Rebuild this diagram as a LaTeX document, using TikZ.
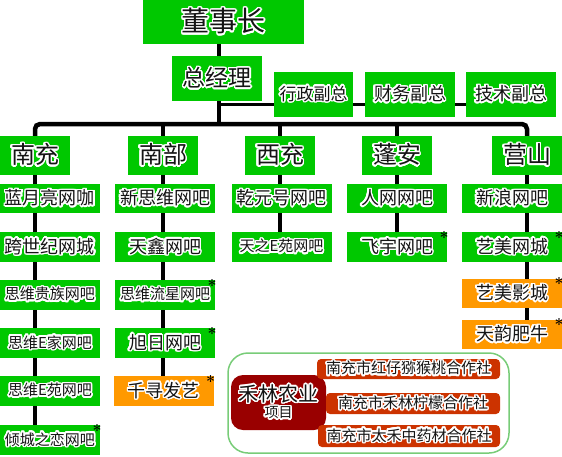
\documentclass[tikz,border=0pt]{standalone}
\usepackage{fontspec}
\usepackage{xcolor}
\usepackage[copies]{contour}
\usepackage{tikz}
\usetikzlibrary{backgrounds}
\newfontfamily\cjk{Noto Sans CJK SC}
\contourlength{1.5pt}
\contournumber{24}
\definecolor{boxgreen}{RGB}{0,200,0}
\definecolor{boxorange}{RGB}{255,153,0}
\definecolor{projred}{RGB}{153,0,0}
\definecolor{coopred}{RGB}{204,51,0}
\definecolor{ringgreen}{RGB}{120,204,120}
\definecolor{ink}{RGB}{20,20,20}
\newcommand{\gl}[1]{\contour{white}{#1}}
\newcommand{\fs}[1]{\fontsize{#1}{#1}\selectfont}

\begin{document}
\begin{tikzpicture}[
  x=1pt, y=-1pt,
  top/.style={fill=boxgreen, text=ink, inner sep=0pt, font=\cjk},
  head/.style={top, minimum width=70pt, minimum height=39pt, font=\cjk\fs{24}},
  shop/.style={top, minimum width=100pt, minimum height=29.5pt, font=\cjk\fs{18}},
  small/.style={font=\cjk\fs{15}},
  side/.style={shop, fill=boxorange},
  coop/.style={fill=coopred, text=ink, rounded corners=4pt, inner sep=0pt,
               minimum height=21pt, font=\cjk\fs{15}},
  link/.style={line width=4.5pt},
  asterisk/.style={font=\bfseries\fs{16}, inner sep=0pt},
]
  \useasboundingbox (0,0) rectangle (562,456);

  % --- board and management ---------------------------------------
  \node[top, minimum width=161pt, minimum height=44pt, font=\cjk\fs{28}] (chair) at (223.5,22) {\gl{董事长}};
  \node[top, minimum width=90pt, minimum height=45pt, font=\cjk\fs{23}] (gm) at (217,78.5) {\gl{总经理}};
  \node[top, minimum width=79pt, minimum height=45pt, font=\cjk\fs{17}] (vp1) at (313.5,94.5) {\gl{行政副总}};
  \node[top, minimum width=90pt, minimum height=45pt, font=\cjk\fs{18}] (vp2) at (410,94.5) {\gl{财务副总}};
  \node[top, minimum width=90pt, minimum height=45pt, font=\cjk\fs{18}] (vp3) at (511,94.5) {\gl{技术副总}};
  \coordinate (bus) at (219,124);
  \coordinate (vpline) at (219,104);

  % --- regions ----------------------------------------------------
  \node[head] (nc) at (35,155.5) {\gl{南充}};
  \node[head] (nb) at (163,155.5) {\gl{南部}};
  \node[head] (xc) at (280,155.5) {\gl{西充}};
  \node[head] (pa) at (397,155.5) {\gl{蓬安}};
  \node[head] (ys) at (527,155.5) {\gl{营山}};

  % --- shops ------------------------------------------------------
  \node[shop] (nc1) at (50,198.5) {\gl{蓝月亮网咖}};
  \node[shop] (nc2) at (50,247) {\gl{跨世纪网城}};
  \node[shop, small] (nc3) at (50,295) {\gl{思维贵族网吧}};
  \node[shop, small] (nc4) at (50,343) {\gl{思维E家网吧}};
  \node[shop, small] (nc5) at (50,391) {\gl{思维E苑网吧}};
  \node[shop, small] (nc6) at (50,440) {\gl{倾城之恋网吧}};

  \node[shop] (nb1) at (165,198.5) {\gl{新思维网吧}};
  \node[shop] (nb2) at (165,247) {\gl{天鑫网吧}};
  \node[shop, small] (nb3) at (165,295) {\gl{思维流星网吧}};
  \node[shop] (nb4) at (165,343) {\gl{旭日网吧}};
  \node[side] (nb5) at (163.5,391) {\gl{千寻发艺}};

  \node[shop] (xc1) at (281.5,198.5) {\gl{乾元号网吧}};
  \node[shop, small] (xc2) at (281.5,247) {\gl{天之E苑网吧}};

  \node[shop] (pa1) at (397,198.5) {\gl{人网网吧}};
  \node[shop] (pa2) at (397,247) {\gl{飞宇网吧}};

  \node[shop] (ys1) at (512,198.5) {\gl{新浪网吧}};
  \node[shop] (ys2) at (512,247) {\gl{艺美网城}};
  \node[side, minimum height=29pt] (ys3) at (512,293.5) {\gl{艺美影城}};
  \node[side, minimum height=29pt] (ys4) at (512,334.5) {\gl{天韵肥牛}};

  \foreach \s in {nb3,nb4,nb5,nc6,pa2,ys2,ys3,ys4}
    \node[asterisk] (star-\s) at ([xshift=-3pt,yshift=-5pt]\s.north east) {*};

  % --- connectors -------------------------------------------------
  \begin{scope}[on background layer]
    \draw[link] (bus) -- (bus |- chair);
    \draw[line width=3pt] (vpline) -- (vpline -| vp3);
    \draw[link, rounded corners=5pt] (nc) |- (bus) -| (ys);
    \foreach \h in {nb,xc,pa}
      \draw[link] (\h) -- (\h |- bus);
    \draw[link] (nc) -- (nc |- nc6);
    \draw[link] (nb) -- (nb |- nb5);
    \draw[link] (xc) -- (xc |- xc2);
    \draw[link] (pa) -- (pa |- pa2);
    \draw[link] (ys) -- (ys |- ys4);
  \end{scope}

  % --- farming project --------------------------------------------
  \node[draw=ringgreen, line width=1.5pt, rounded corners=20pt, inner sep=0pt,
        minimum width=281pt, minimum height=100pt] (farm) at (368.5,403) {};
  \node[fill=projred, text=ink, rounded corners=12pt, inner sep=0pt, align=center,
        minimum width=95pt, minimum height=55pt, font=\cjk] (proj) at (278.5,402.5)
        {\fs{20}\gl{禾林农业}\\[1pt]\fs{14}\gl{项目}};
  \node[coop, minimum width=183pt, minimum height=20pt] (co1) at (408.5,369) {\gl{南充市红仔猕猴桃合作社}};
  \node[coop, minimum width=174pt] (co2) at (413,403.5) {\gl{南充市禾林柠檬合作社}};
  \node[coop, minimum width=182pt, minimum height=22pt] (co3) at (409,436) {\gl{南充市太禾中药材合作社}};
\end{tikzpicture}
\end{document}
